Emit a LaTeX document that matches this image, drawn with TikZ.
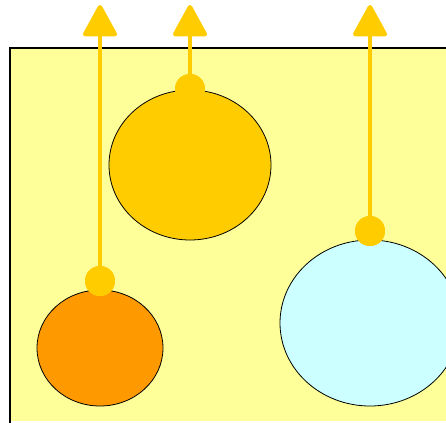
\documentclass[tikz,border=0pt]{standalone}
\usetikzlibrary{arrows.meta,shapes.geometric}
\definecolor{paleyellow}{HTML}{FFFF99}
\definecolor{gold}{HTML}{FFCC00}
\definecolor{orangefill}{HTML}{FF9900}
\definecolor{cyanfill}{HTML}{CCFFFF}
\tikzset{
  blob/.style={ellipse, draw=black, line width=0.8pt, inner sep=0pt},
  dot/.style={circle, fill=gold, inner sep=0pt, minimum size=30pt},
  riser/.style={draw=gold, line width=4.5pt, -{Triangle[width=36pt 0,length=34pt 0,round]}}
}
\begin{document}
\begin{tikzpicture}[x=1pt,y=-1pt]
\useasboundingbox (0,0) rectangle (446,422);
\fill[paleyellow] (10,48) rectangle (470,421);
\draw[black, line width=2pt] (10,440) -- (10,48) -- (470,48);
\node[blob, fill=orangefill, minimum width=126pt, minimum height=116pt] (orange) at (100,348) {};
\node[blob, fill=gold, minimum width=162pt, minimum height=150pt] (goldb) at (190,165) {};
\node[blob, fill=cyanfill, minimum width=180pt, minimum height=166pt] (cyan) at (370,323) {};
\coordinate (t1) at (100,5);
\coordinate (t2) at (190,5);
\coordinate (t3) at (370,5);
\node[dot] (d1) at (100,281) {};
\node[dot] (d2) at (190,89) {};
\node[dot] (d3) at (370,231) {};
\draw[riser] (d1.center) -- (t1);
\draw[riser] (d2.center) -- (t2);
\draw[riser] (d3.center) -- (t3);
\node[dot] at (d1) {};
\node[dot] at (d2) {};
\node[dot] at (d3) {};
\end{tikzpicture}
\end{document}
